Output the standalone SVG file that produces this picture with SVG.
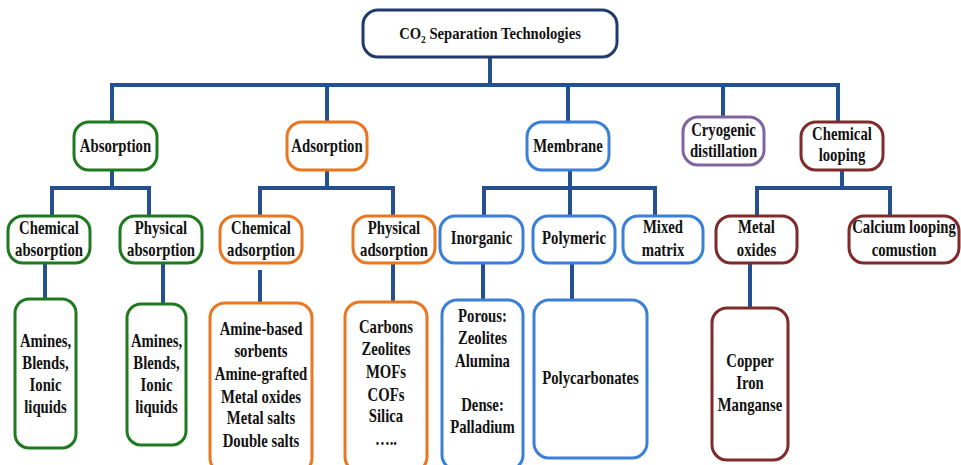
<svg xmlns="http://www.w3.org/2000/svg" width="961" height="465" viewBox="0 0 961 465">
<style>
  .n{fill:#fff;stroke-width:3}
  .top{stroke:#1F3A6E}
  .g{stroke:#1F7A1F}
  .o{stroke:#E87722}
  .b{stroke:#3C7FD9}
  .p{stroke:#8064A2}
  .r{stroke:#7F2B2B}
  text{font-family:"Liberation Serif","Times New Roman",serif;font-weight:bold;font-size:18px;fill:#111;text-anchor:middle}
  .t{font-size:17px}
  #connectors path{fill:none;stroke:#25508F;stroke-width:4}
</style>
<rect width="961" height="465" fill="#fff"/>
<g id="connectors">
  <path d="M490 57V85M110 85H840M112 85V122M327 85V122M568 85V122M723 85V117M838 85V122"/>
  <path d="M112 170V188M52 188H149M52 186V216M149 186V216"/>
  <path d="M327 170V188M260 188H393M260 186V216M393 186V216"/>
  <path d="M570 170V216M484 188H655M484 186V216M655 186V216"/>
  <path d="M842 170V188M757 188H890M757 186V216M890 186V216"/>
  <path d="M45 263V299M163 263V304M260 270V303M393 263V302M483 263V300M572 263V300M750 263V308"/>
</g>
<g id="root"><rect class="n top" x="363" y="10" width="254" height="47" rx="15"/>
  <text class="t" transform="translate(490 0) scale(0.86 1)" x="0" y="39">CO<tspan font-size="11" dy="4">2</tspan><tspan dy="-4"> Separation Technologies</tspan></text></g>

<g id="absorption"><rect class="n g" x="74" y="122" width="83" height="48" rx="15"/>
  <text transform="translate(115.5 0) scale(0.82 1)" x="0" y="152">Absorption</text></g>
<g id="adsorption"><rect class="n o" x="287" y="122" width="80" height="48" rx="15"/>
  <text transform="translate(327 0) scale(0.82 1)" x="0" y="152">Adsorption</text></g>
<g id="membrane"><rect class="n b" x="527" y="122" width="82" height="48" rx="15"/>
  <text transform="translate(568 0) scale(0.82 1)" x="0" y="152">Membrane</text></g>
<g id="cryogenic"><rect class="n p" x="683" y="117" width="81" height="48" rx="15"/>
  <text transform="translate(723.5 0) scale(0.82 1)"><tspan x="0" y="136">Cryogenic</tspan><tspan x="0" y="157">distillation</tspan></text></g>
<g id="chemlooping"><rect class="n r" x="801" y="122" width="82" height="48" rx="15"/>
  <text transform="translate(842 0) scale(0.82 1)"><tspan x="0" y="140">Chemical</tspan><tspan x="0" y="161">looping</tspan></text></g>

<g id="chemabs"><rect class="n g" x="8" y="216" width="82" height="47" rx="15"/>
  <text transform="translate(49 0) scale(0.82 1)"><tspan x="0" y="234">Chemical</tspan><tspan x="0" y="256">absorption</tspan></text></g>
<g id="physabs"><rect class="n g" x="120" y="216" width="82" height="47" rx="15"/>
  <text transform="translate(161 0) scale(0.82 1)"><tspan x="0" y="234">Physical</tspan><tspan x="0" y="256">absorption</tspan></text></g>
<g id="chemads"><rect class="n o" x="220" y="216" width="82" height="47" rx="15"/>
  <text transform="translate(261 0) scale(0.82 1)"><tspan x="0" y="234">Chemical</tspan><tspan x="0" y="256">adsorption</tspan></text></g>
<g id="physads"><rect class="n o" x="353" y="216" width="82" height="47" rx="15"/>
  <text transform="translate(394 0) scale(0.82 1)"><tspan x="0" y="234">Physical</tspan><tspan x="0" y="256">adsorption</tspan></text></g>
<g id="inorganic"><rect class="n b" x="440" y="216" width="83" height="47" rx="15"/>
  <text transform="translate(481.5 0) scale(0.82 1)" x="0" y="244">Inorganic</text></g>
<g id="polymeric"><rect class="n b" x="533" y="216" width="82" height="47" rx="15"/>
  <text transform="translate(574 0) scale(0.82 1)" x="0" y="244">Polymeric</text></g>
<g id="mixed"><rect class="n b" x="623" y="216" width="80" height="47" rx="15"/>
  <text transform="translate(663 0) scale(0.82 1)"><tspan x="0" y="233">Mixed</tspan><tspan x="0" y="256">matrix</tspan></text></g>
<g id="metaloxides"><rect class="n r" x="716" y="216" width="81" height="47" rx="15"/>
  <text transform="translate(756.5 0) scale(0.82 1)"><tspan x="0" y="233">Metal</tspan><tspan x="0" y="256">oxides</tspan></text></g>
<g id="calcium"><rect class="n r" x="849" y="216" width="110" height="47" rx="15"/>
  <text transform="translate(904 0) scale(0.82 1)"><tspan x="0" y="233">Calcium looping</tspan><tspan x="0" y="256">comustion</tspan></text></g>

<g id="amines1"><rect class="n g" x="15" y="299" width="61" height="149" rx="14"/>
  <text transform="translate(45.5 0) scale(0.82 1)"><tspan x="0" y="347">Amines,</tspan><tspan x="0" y="369">Blends,</tspan><tspan x="0" y="391">Ionic</tspan><tspan x="0" y="413">liquids</tspan></text></g>
<g id="amines2"><rect class="n g" x="127" y="304" width="59" height="141" rx="14"/>
  <text transform="translate(156.5 0) scale(0.82 1)"><tspan x="0" y="347">Amines,</tspan><tspan x="0" y="369">Blends,</tspan><tspan x="0" y="391">Ionic</tspan><tspan x="0" y="413">liquids</tspan></text></g>
<g id="aminebased"><rect class="n o" x="210" y="303" width="102" height="170" rx="15"/>
  <text transform="translate(261 0) scale(0.82 1)"><tspan x="0" y="335">Amine-based</tspan><tspan x="0" y="357">sorbents</tspan><tspan x="0" y="380">Amine-grafted</tspan><tspan x="0" y="403">Metal oxides</tspan><tspan x="0" y="424">Metal salts</tspan><tspan x="0" y="447">Double salts</tspan></text></g>
<g id="carbons"><rect class="n o" x="345" y="302" width="82" height="170" rx="15"/>
  <text transform="translate(386 0) scale(0.82 1)"><tspan x="0" y="333">Carbons</tspan><tspan x="0" y="355">Zeolites</tspan><tspan x="0" y="378">MOFs</tspan><tspan x="0" y="401">COFs</tspan><tspan x="0" y="422">Silica</tspan><tspan x="0" y="445">…..</tspan></text></g>
<g id="porous"><rect class="n b" x="442" y="300" width="81" height="170" rx="15"/>
  <text transform="translate(482.5 0) scale(0.82 1)"><tspan x="0" y="322">Porous:</tspan><tspan x="0" y="344">Zeolites</tspan><tspan x="0" y="367">Alumina</tspan><tspan x="0" y="411">Dense:</tspan><tspan x="0" y="433">Palladium</tspan></text></g>
<g id="polycarb"><rect class="n b" x="534" y="300" width="113" height="158" rx="15"/>
  <text transform="translate(590.5 0) scale(0.82 1)" x="0" y="384">Polycarbonates</text></g>
<g id="copper"><rect class="n r" x="712" y="308" width="76" height="152" rx="15"/>
  <text transform="translate(750 0) scale(0.82 1)"><tspan x="0" y="367">Copper</tspan><tspan x="0" y="389">Iron</tspan><tspan x="0" y="411">Manganse</tspan></text></g>
</svg>
